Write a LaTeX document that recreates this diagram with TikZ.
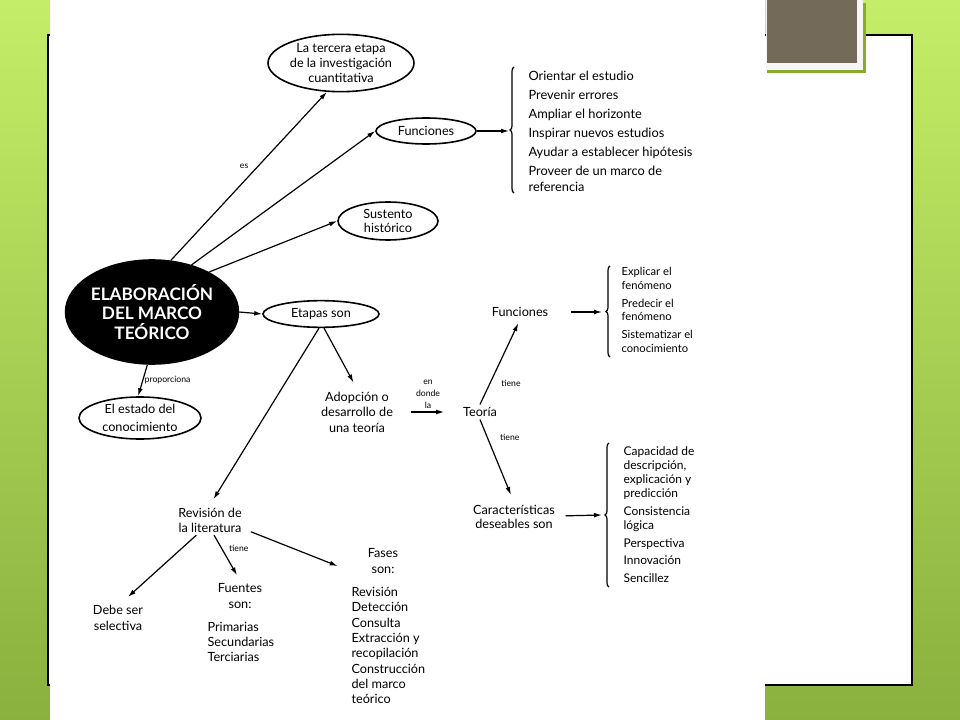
\documentclass[tikz,border=0pt]{standalone}
\usepackage{fontspec}
\setmainfont{Lato}
\usetikzlibrary{shapes.geometric,decorations.pathreplacing,arrows.meta}
\definecolor{verde}{RGB}{196,238,104}
\definecolor{verdeosc}{RGB}{138,176,62}
\definecolor{cafe}{RGB}{116,106,90}
\definecolor{sombra}{RGB}{138,170,46}
\tikzset{
  oval/.style={draw,ellipse,line width=1.2pt,inner sep=0pt,align=center,font=\fontsize{9.5}{11}\selectfont},
  texto/.style={align=center,inner sep=2pt,font=\fontsize{9.5}{11.5}\selectfont},
  lista/.style={align=left,inner sep=1pt,anchor=west,font=\fontsize{9.6}{14.25}\selectfont},
  etiq/.style={inner sep=1pt,font=\fontsize{6.5}{9}\selectfont},
  llave/.style={decorate,decoration={brace,amplitude=3pt},line width=0.9pt},
  flecha/.style={->,line width=0.9pt}
}
\begin{document}
\begin{tikzpicture}[x=0.75pt,y=-0.75pt,>={Latex[length=6pt,width=3.6pt]}]
\useasboundingbox (0,0) rectangle (960,720);
\shade[top color=verde,bottom color=verdeosc] (0,0) rectangle (960,720);
\draw[fill=white,line width=1pt] (48,35) rectangle (912,685);
\fill[white] (49.5,0) rectangle (765,720);
\fill[sombra] (767,3) rectangle (866,73);
\fill[white!96!black] (766,0) rectangle (863,70);
\fill[cafe] (767,0) rectangle (857,63);

\node[oval,fill=black,text=white,minimum width=111pt,minimum height=78pt,font=\bfseries\fontsize{12.9}{14.6}\selectfont] (marco) at (152,312) {ELABORACIÓN\\DEL MARCO\\TEÓRICO};
\node[oval,minimum width=109.5pt,minimum height=43pt] (tercera) at (341,63) {La tercera etapa\\de la investigación\\cuantitativa};
\node[oval,minimum width=75pt,minimum height=19.5pt] (funciones) at (426,131) {Funciones};
\node[oval,minimum width=75pt,minimum height=28.5pt,font=\fontsize{9.5}{10.5}\selectfont] (sustento) at (388,221) {Sustento\\histórico};
\node[oval,minimum width=87pt,minimum height=20pt] (etapas) at (321,314) {Etapas son};
\node[oval,minimum width=91.5pt,minimum height=31.5pt,font=\fontsize{9.5}{13.5}\selectfont] (estado) at (140,418) {El estado del\\conocimiento};

\node[texto,font=\fontsize{9.5}{11.6}\selectfont] (adopcion) at (357,412) {Adopción o\\desarrollo de\\una teoría};
\node[texto] (teoria) at (480,412) {Teoría};
\node[texto] (funciones2) at (520,312) {Funciones};
\node[texto,font=\fontsize{9.5}{10.5}\selectfont] (caract) at (514,517) {Características\\deseables son};
\node[texto,font=\fontsize{9.5}{11.25}\selectfont] (revision) at (210,520) {Revisión de\\la literatura};
\node[texto,font=\fontsize{9.5}{12}\selectfont] (debe) at (118,618) {Debe ser\\selectiva};
\node[texto,font=\fontsize{9.5}{12}\selectfont] (fuentes) at (240,596) {Fuentes\\son:};
\node[lista,font=\fontsize{9.5}{11.25}\selectfont] (tipos) at (206,642) {Primarias\\Secundarias\\Terciarias};
\node[texto,font=\fontsize{9.5}{12.5}\selectfont] (fases) at (383,561) {Fases\\son:};
\node[lista,font=\fontsize{9.5}{11.5}\selectfont] (pasos) at (350,645.5) {Revisión\\Detección\\Consulta\\Extracción y\\recopilación\\Construcción\\del marco\\teórico};

\node[lista] (usos) at (527,131) {Orientar el estudio\\Prevenir errores\\Ampliar el horizonte\\Inspirar nuevos estudios\\Ayudar a establecer hipótesis\\Proveer de un marco de\\[-2.25pt]referencia};
\node[lista,font=\fontsize{8.4}{10.2}\selectfont] (tareas) at (620,310) {Explicar el\\fenómeno\\[3.3pt]Predecir el\\fenómeno\\[3.3pt]Sistematizar el\\conocimiento};
\node[lista,font=\fontsize{9}{10.5}\selectfont] (rasgos) at (622,514.5) {Capacidad de\\descripción,\\explicación y\\predicción\\[3pt]Consistencia\\lógica\\[3pt]Perspectiva\\[2.5pt]Innovación\\[3pt]Sencillez};

\coordinate (punta1) at (509,131);
\coordinate (punta2) at (602,312);
\coordinate (punta3) at (602,515);
\draw[llave] (514,193) -- (514,67);
\draw[llave] (610,357) -- (610,266);
\draw[llave] (609,587) -- (609,443);

\draw[flecha] (marco.70) -- (tercera.244) node[pos=0.56,left=6pt,etiq]{es};
\draw[flecha] (marco.50) -- (funciones.west);
\draw[flecha] (marco.35) -- (sustento.west);
\draw[flecha] (marco.east) -- (etapas.west);
\draw[flecha] (marco.265) -- (estado.95) node[pos=0.5,right=0pt,etiq]{proporciona};
\draw[flecha] (funciones.east) -- (punta1);
\draw[flecha,shorten >=5.5pt] (etapas.282) -- (adopcion.north);
\draw[flecha,shorten >=5pt] (etapas.262) -- (revision.north);
\draw[flecha,shorten <=11pt,shorten >=12pt] (adopcion) -- (teoria) node[midway,above=1pt,align=center,etiq]{en\\donde\\la};
\draw[flecha,shorten >=3pt] (teoria.north) -- (funciones2.south) node[pos=0.25,right=7pt,etiq]{tiene};
\draw[flecha,shorten >=6pt] (teoria.south) -- (caract.north) node[pos=0.22,right=8pt,etiq]{tiene};
\draw[flecha,shorten <=15pt] (funciones2) -- (punta2);
\draw[flecha,shorten <=6pt] (caract) -- (punta3);
\draw[flecha,shorten >=6pt] (revision.228) -- ([xshift=3pt]debe.north);
\draw[flecha,shorten >=4.5pt] (revision.285) -- (fuentes.north) node[pos=0.3,right=4pt,etiq]{tiene};
\draw[flecha,shorten <=5pt,shorten >=22pt] (revision.-15) -- (fases.south west);
\end{tikzpicture}
\end{document}
